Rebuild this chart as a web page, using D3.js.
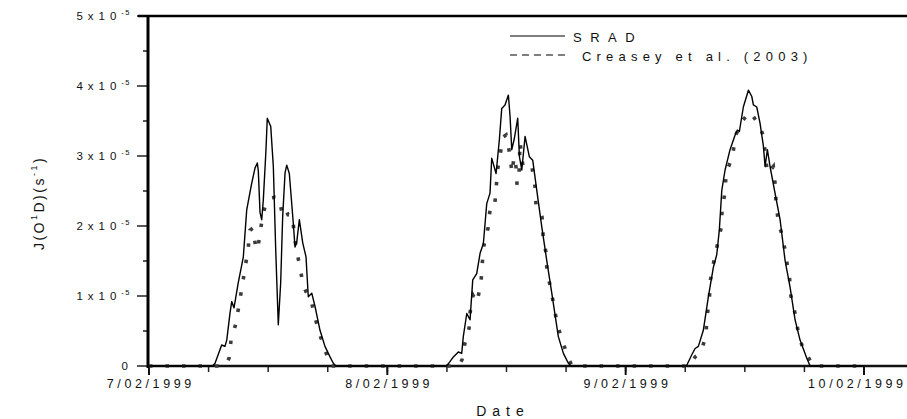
<!DOCTYPE html>
<html><head><meta charset="utf-8">
<script src="https://cdn.jsdelivr.net/npm/d3@7"></script>
<style>
html,body{margin:0;padding:0;background:#fff;}
text{font-family:"Liberation Sans",Arial,sans-serif;fill:#111;white-space:pre;}
</style></head>
<body><svg id="c" width="907" height="419"></svg>
<script>
// hours since 7 Feb 1999 00:00, J(O1D) in units of 1e-5 s^-1
const sradHours = [0,6.4,6.65,7.32,7.65,7.83,8.16,8.33,8.56,8.99,9.50,9.84,10.34,10.68,10.91,11.01,11.18,11.35,11.51,11.78,11.91,12.26,12.52,12.76,13.02,13.26,13.46,13.70,13.87,14.13,14.53,14.70,14.87,15.14,15.48,15.81,16.04,16.39,16.72,17.22,17.72,18.23,18.56,18.8,
  29.9,30.14,30.65,31.15,31.49,31.65,32.00,32.33,32.60,33.00,33.34,33.67,34.01,34.34,34.51,34.95,35.28,35.52,35.85,36.19,36.36,36.53,36.79,37.13,37.30,37.54,37.87,38.30,38.64,39.05,39.55,40.05,40.56,41.22,41.73,42.23,42.5,
  53.9,54.15,54.66,54.99,55.32,55.82,56.33,56.83,57.17,57.43,57.68,58.01,58.51,59.02,59.25,59.45,59.85,60.36,60.70,60.86,61.20,61.53,61.87,62.04,62.27,62.54,63.04,63.55,64.05,64.55,65.06,65.56,66.24,66.57,72];
const sradValues = [0,0,0.04,0.30,0.28,0.37,0.76,0.92,0.83,1.19,1.56,2.23,2.61,2.83,2.90,2.78,2.19,2.09,2.37,3.09,3.54,3.42,2.85,1.66,0.59,1.19,2.13,2.76,2.87,2.75,2.04,1.70,1.76,2.09,1.76,1.56,0.99,1.04,0.85,0.51,0.28,0.13,0.04,0,
  0,0.03,0.13,0.20,0.18,0.42,0.75,0.66,1.23,1.32,1.61,1.75,2.32,2.47,2.97,2.75,3.23,3.68,3.73,3.87,3.56,3.09,3.25,3.54,2.99,2.80,3.28,2.99,2.94,2.51,1.99,1.51,1.04,0.42,0.18,0.04,0,
  0,0.01,0.16,0.25,0.28,0.51,0.99,1.41,1.59,1.94,2.51,2.80,3.09,3.30,3.37,3.35,3.70,3.94,3.85,3.73,3.70,3.47,3.14,2.85,3.09,2.85,2.47,2.09,1.51,1.13,0.66,0.37,0.11,0,0];
const creaseyHours = [0,7.65,8.06,8.26,8.76,9.06,9.37,9.67,9.97,10.17,10.47,10.78,10.98,11.18,11.48,11.78,12.19,12.69,13.09,13.39,13.70,14.00,14.40,14.60,14.80,15.21,15.51,15.81,16.32,16.72,17.22,17.72,18.03,18.23,
  31.22,31.52,31.82,32.23,32.33,32.63,33.03,33.44,33.54,33.74,34.14,34.34,34.75,34.95,35.05,35.35,35.65,35.95,36.25,36.56,36.76,36.96,37.06,37.26,37.36,37.67,38.17,38.57,38.87,38.97,39.58,39.68,39.98,40.08,40.49,40.79,41.19,41.69,42.30,42.60,
  54.5,54.99,55.49,56.09,56.16,56.43,56.50,56.83,57.23,57.61,57.71,58.01,58.11,58.79,59.02,59.79,60.52,61.46,61.87,62.27,62.87,63.04,63.14,63.38,63.88,64.15,64.49,64.63,65.06,65.39,65.84,66.74,66.87,72];
const creaseyValues = [0,0,0.11,0.37,0.61,0.87,1.13,1.40,1.66,1.94,1.97,1.66,1.69,1.91,2.16,2.33,2.40,2.41,2.40,2.19,2.26,2.16,2.16,1.94,1.69,1.41,1.16,1.06,0.94,0.69,0.44,0.23,0.11,0,
  0,0.09,0.33,0.54,0.76,1.01,0.91,1.20,1.44,1.73,1.97,2.23,2.23,2.49,2.76,3.01,3.27,3.30,3.09,2.76,2.99,2.84,2.59,2.69,3.20,2.84,2.87,2.84,2.56,2.30,2.13,1.87,1.61,1.34,1.09,0.83,0.56,0.33,0.09,0,
  0,0.13,0.18,0.42,0.68,0.94,1.20,1.46,1.73,1.97,2.23,2.49,2.75,3.01,3.28,3.51,3.63,3.44,3.28,2.75,2.85,2.61,2.34,2.05,1.81,1.54,1.28,1.01,0.75,0.47,0.25,0.04,0,0];
const xTickLabels = ["7/02/1999","8/02/1999","9/02/1999","10/02/1999"];
const yTickMantissa = ["0","1","2","3","4","5"];
const seriesNames = ["SRAD","Creasey et al. (2003)"];

const t0 = Date.UTC(1999,1,7);
const toDate = h => new Date(t0 + h*3600e3);
const svg = d3.select("#c");
const L = 148, R = 907, T = 16, B = 366;
const x = d3.scaleUtc().domain([toDate(0), toDate(76.33)]).range([L+1, R]);
const y = d3.scaleLinear().domain([0,5]).range([B, T]);

// x ticks
const majorX = d3.utcDay.range(toDate(0), toDate(73));
const minorX = d3.utcHour.every(6).range(toDate(0), toDate(76.3));
const gx = svg.append("g");
gx.selectAll("line.mn").data(minorX).join("line")
  .attr("x1", d=>x(d)).attr("x2", d=>x(d)).attr("y1", B).attr("y2", B+6)
  .attr("stroke","#222").attr("stroke-width",1.5);
gx.selectAll("line.mj").data(majorX).join("line")
  .attr("x1", d=>x(d)).attr("x2", d=>x(d)).attr("y1", B).attr("y2", B+9)
  .attr("stroke","#111").attr("stroke-width",2);
const xls = 3.6;
gx.selectAll("text").data(majorX).join("text")
  .attr("y", 388).style("font-size","12.5px").style("letter-spacing", xls+"px")
  .attr("text-anchor","middle")
  .text((d,i)=>xTickLabels[i])
  .each(function(d){
    const t = d3.select(this);
    t.attr("x", x(d) + xls/2);
    const bb = this.getBBox();
    const visRight = bb.x + bb.width - xls;
    if (visRight > 903) t.attr("x", x(d) + xls/2 - (visRight - 903));
  });

// y ticks
const gy = svg.append("g");
const minorY = d3.range(0.5,5,1);
gy.selectAll("line.mn").data(minorY).join("line")
  .attr("x1", L-5).attr("x2", L).attr("y1", d=>y(d)).attr("y2", d=>y(d))
  .attr("stroke","#222").attr("stroke-width",1.5);
gy.selectAll("line.mj").data(d3.range(0,6)).join("line")
  .attr("x1", L-11).attr("x2", L).attr("y1", d=>y(d)).attr("y2", d=>y(d))
  .attr("stroke","#222").attr("stroke-width",1.5);
const yl = gy.selectAll("text").data(d3.range(0,6)).join("text")
  .attr("x", 131).attr("y", d=>y(d)+4).attr("text-anchor","end")
  .style("font-size","11.5px");
yl.each(function(d,i){
  const t = d3.select(this);
  if (d===0){ t.append("tspan").text("0").attr("dx",-3); return; }
  t.append("tspan").style("letter-spacing","5px").text(yTickMantissa[i]+"x10");
  t.append("tspan").attr("dy",-5).style("font-size","7.5px").style("letter-spacing","1.5px").text("-5");
});

// frame
svg.append("line").attr("x1",L).attr("x2",L).attr("y1",T-1).attr("y2",B+2).attr("stroke","#000").attr("stroke-width",3);
svg.append("line").attr("x1",L-10).attr("x2",R).attr("y1",T).attr("y2",T).attr("stroke","#000").attr("stroke-width",2.5);
svg.append("line").attr("x1",L).attr("x2",R).attr("y1",B).attr("y2",B).attr("stroke","#111").attr("stroke-width",2.5);

// series
const line = d3.line().x(d=>x(toDate(d[0]))).y(d=>y(d[1]));
const cData = creaseyHours.map((h,i)=>[h, creaseyValues[i]]);
const sData = sradHours.map((h,i)=>[h, sradValues[i]]);
svg.append("path").datum(cData).attr("d", line).attr("fill","none")
  .attr("stroke","#3c3c3c").attr("stroke-width",3.6).attr("stroke-dasharray","3.5,13");
svg.append("path").datum(sData).attr("d", line).attr("fill","none")
  .attr("stroke","#000").attr("stroke-width",1.4).attr("stroke-linejoin","round");

// legend
svg.append("line").attr("x1",510).attr("x2",565).attr("y1",36).attr("y2",36).attr("stroke","#000").attr("stroke-width",1.2);
svg.append("line").attr("x1",510).attr("x2",567).attr("y1",55).attr("y2",55).attr("stroke","#000").attr("stroke-width",1.2).attr("stroke-dasharray","7,5");
svg.append("text").attr("x",573).attr("y",42).style("font-size","13px").style("letter-spacing","8.5px").text(seriesNames[0]);
svg.append("text").attr("x",582).attr("y",61).style("font-size","13px").style("letter-spacing","5.2px").text(seriesNames[1]);

// axis titles
svg.append("text").attr("x",503).attr("y",416).attr("text-anchor","middle").style("font-size","14px").style("letter-spacing","6px").text("Date");
const yt = svg.append("text").attr("transform","translate(44,203) rotate(-90)").attr("text-anchor","middle").style("font-size","14px").style("letter-spacing","2.5px");
yt.append("tspan").text("J(O");
yt.append("tspan").attr("dy",-7).style("font-size","9px").text("1");
yt.append("tspan").attr("dy",7).text("D)(s");
yt.append("tspan").attr("dy",-7).style("font-size","9px").text("-1");
yt.append("tspan").attr("dy",7).text(")");
</script></body></html>
